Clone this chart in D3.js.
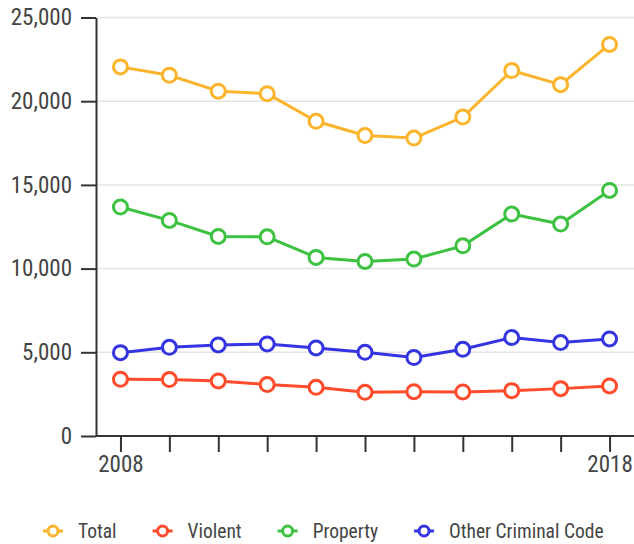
<!DOCTYPE html>
<html>
<head>
<meta charset="utf-8">
<script src="https://cdn.jsdelivr.net/npm/d3@7"></script>
<style>
  body { margin: 0; background: #fff; }
  svg text { font-family: "Roboto Condensed", Roboto, sans-serif; fill: #444; }
</style>
</head>
<body>
<svg id="chart" width="634" height="544"></svg>
<script>
const years = [2008, 2009, 2010, 2011, 2012, 2013, 2014, 2015, 2016, 2017, 2018];
const labeledYears = [2008, 2018];
const yTicks = [0, 5000, 10000, 15000, 20000, 25000];

const total = [22050, 21550, 20600, 20450, 18800, 17950, 17800, 19050, 21830, 20990, 23390];
const violent = [3390, 3370, 3290, 3070, 2910, 2610, 2650, 2630, 2710, 2830, 2990];
const property = [13680, 12880, 11920, 11900, 10670, 10430, 10570, 11360, 13260, 12660, 14670];
const other = [4980, 5300, 5440, 5500, 5260, 5000, 4690, 5180, 5880, 5580, 5800];

const seriesNames = ["Total", "Violent", "Property", "Other Criminal Code"];
const seriesValues = [total, violent, property, other];
const colors = ["#fbb42c", "#fe4b2c", "#3cc240", "#3434e0"];

const svg = d3.select("#chart");
const plotLeft = 96, plotRight = 634, plotTop = 17.5, plotBottom = 436;

const x = d3.scalePoint().domain(years).range([plotLeft, plotRight]).padding(0.5);
const y = d3.scaleLinear().domain([0, 25000]).range([plotBottom, plotTop]);

// grid
svg.append("g")
	.attr("class", "grid")
	.selectAll("line")
	.data(yTicks.filter(d => d > 0))
	.enter().append("line")
		.attr("x1", plotLeft)
		.attr("x2", plotRight)
		.attr("y1", d => y(d))
		.attr("y2", d => y(d))
		.attr("stroke", "#e4e4e4")
		.attr("stroke-width", 1.5);

// lines + dots
const line = d3.line()
	.x((d, i) => x(years[i]))
	.y(d => y(d));

seriesValues.forEach((vals, idx) => {
	const g = svg.append("g").attr("class", "series");
	g.append("path")
		.datum(vals)
		.attr("fill", "none")
		.attr("stroke", colors[idx])
		.attr("stroke-width", 3)
		.attr("stroke-linejoin", "round")
		.attr("d", line);
	g.selectAll("circle")
		.data(vals)
		.enter().append("circle")
			.attr("cx", (d, i) => x(years[i]))
			.attr("cy", d => y(d))
			.attr("r", 7)
			.attr("fill", "#fff")
			.attr("stroke", colors[idx])
			.attr("stroke-width", 3);
});

// axes
const yAxis = svg.append("g")
	.attr("class", "y-axis")
	.attr("transform", `translate(${plotLeft},0)`)
	.call(d3.axisLeft(y).tickValues(yTicks).tickFormat(d3.format(",")).tickSize(15).tickSizeOuter(0).tickPadding(9));

const xAxis = svg.append("g")
	.attr("class", "x-axis")
	.attr("transform", `translate(0,${plotBottom})`)
	.call(d3.axisBottom(x).tickSize(16).tickSizeOuter(0).tickPadding(4)
		.tickFormat(d => labeledYears.includes(d) ? d : ""));

[yAxis, xAxis].forEach(a => {
	a.attr("font-family", null).attr("font-size", null);
	a.selectAll("path, line").attr("stroke", "#333").attr("stroke-width", 2);
	a.selectAll("text").attr("font-size", 23).attr("fill", "#444");
});
xAxis.select(".domain").attr("d", `M${plotLeft},0H${plotRight}`);

// legend
const legend = svg.append("g").attr("class", "legend").attr("transform", "translate(0,531)");
let cx = 53;
seriesNames.forEach((name, idx) => {
	const item = legend.append("g");
	item.append("line")
		.attr("x1", cx - 10).attr("x2", cx + 10)
		.attr("stroke", colors[idx]).attr("stroke-width", 3);
	item.append("circle")
		.attr("cx", cx).attr("r", 5)
		.attr("fill", "#fff").attr("stroke", colors[idx]).attr("stroke-width", 3);
	const t = item.append("text")
		.attr("x", cx + 25)
		.attr("dy", "0.35em")
		.attr("font-size", 19.5)
		.text(name);
	cx = cx + 25 + t.node().getComputedTextLength() + 46;
});
</script>
</body>
</html>
